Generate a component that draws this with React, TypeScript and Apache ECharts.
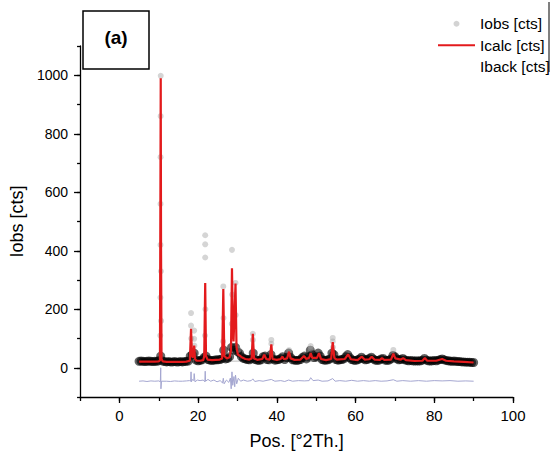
import React, { useEffect, useRef } from "react";
import * as echarts from "echarts";

// Iobs: dense baseline cloud, sampled every 0.5° from 5° to 90°
const iobsStart = 5;
const iobsStep = 0.5;
const iobsBand = [
  22, 23, 22, 21, 22, 23, 22, 21, 22, 22,
  24, 40, 23, 21, 20, 21, 20, 20, 21, 20,
  20, 21, 20, 21, 22, 23, 40, 45, 50, 26,
  24, 25, 27, 35, 40, 28, 26, 25, 26, 27,
  27, 28, 30, 60, 30, 32, 38, 70, 60, 70,
  55, 50, 38, 32, 30, 28, 27, 30, 50, 28,
  26, 25, 27, 38, 40, 28, 27, 45, 30, 26,
  27, 28, 32, 38, 28, 35, 50, 35, 27, 26,
  25, 26, 28, 35, 40, 30, 38, 60, 45, 35,
  38, 50, 40, 28, 26, 26, 27, 30, 50, 45,
  28, 26, 27, 28, 30, 38, 45, 35, 28, 26,
  25, 27, 30, 36, 30, 27, 28, 32, 36, 30,
  26, 25, 26, 30, 32, 26, 25, 26, 30, 42,
  38, 30, 27, 28, 32, 27, 25, 24, 25, 24,
  23, 24, 23, 24, 26, 32, 26, 24, 23, 24,
  25, 24, 26, 28, 30, 27, 25, 24, 23, 22,
  23, 22, 21, 21, 20, 20, 19, 19, 19, 18,
  18,
];

// Iobs: isolated observed points on the peaks
const iobsPeaks: [number, number][] = [
  [10.5, 998], [10.48, 860], [10.46, 720], [10.45, 560], [10.44, 420], [10.55, 330], [10.42, 240], [10.6, 160], [10.38, 110],
  [18.2, 187], [18.2, 144], [18.25, 100], [19.0, 127], [19.0, 99], [19.05, 76],
  [21.8, 453], [21.8, 422], [21.8, 377], [21.85, 200], [21.75, 110],
  [26.4, 278], [26.45, 170], [26.35, 90],
  [28.6, 403], [28.65, 250], [28.55, 150],
  [29.5, 290], [29.55, 180], [30.3, 62],
  [33.9, 116], [33.9, 95],
  [38.6, 95], [38.6, 82], [43.1, 60],
  [48.6, 74], [48.6, 65],
  [54.2, 102], [54.2, 90], [54.25, 70],
  [69.6, 61],
];

const icalc: [number, number][] = [
  [5, 21], [6, 21], [7, 21], [8, 21], [9, 21], [10, 22], [10.3, 25], [10.42, 600], [10.5, 990], [10.58, 400], [10.7, 30],
  [11, 22], [12, 20], [13, 20], [14, 20], [15, 20], [16, 20], [17, 21], [17.9, 24], [18.2, 133], [18.45, 40], [18.75, 35],
  [19.0, 76], [19.2, 30], [19.6, 24], [20.5, 24], [21.3, 26], [21.55, 40], [21.8, 290], [22.0, 40], [22.4, 28], [23.5, 26],
  [24.5, 27], [25.5, 28], [26.1, 32], [26.4, 269], [26.65, 40], [27.3, 32], [28.0, 36], [28.35, 60], [28.6, 340], [28.85, 120],
  [29.0, 90], [29.5, 288], [29.75, 70], [30.1, 45], [30.5, 42], [31.2, 35], [32, 30], [33, 28], [33.6, 32], [33.9, 116],
  [34.2, 32], [35, 27], [36.3, 30], [36.8, 45], [37.3, 30], [38.2, 28], [38.6, 80], [38.9, 30], [40, 27], [41, 30],
  [41.4, 38], [41.8, 29], [42.6, 32], [43.1, 55], [43.5, 32], [44.5, 27], [46, 28], [46.9, 40], [47.5, 30], [48.2, 34],
  [48.6, 50], [49, 34], [50.2, 34], [50.7, 50], [51.2, 30], [52.5, 26], [53.8, 30], [54.2, 88], [54.6, 34], [55.2, 28],
  [57.3, 30], [58.1, 46], [58.8, 29], [60.5, 26], [61.6, 38], [62.3, 28], [63.5, 29], [64.1, 38], [64.8, 28], [66.2, 27],
  [66.7, 33], [67.3, 27], [69, 28], [69.6, 48], [70.1, 32], [71.5, 28], [72.1, 33], [72.8, 26], [75, 23], [77, 24],
  [77.6, 33], [78.2, 24], [80.5, 24], [82, 30], [83, 24], [85, 22], [87.5, 20], [90, 18],
];

const iback: [number, number][] = [
  [5, 20], [15, 19], [25, 22], [32, 23], [45, 22], [60, 21], [75, 20], [90, 17],
];

const idiff: [number, number][] = [
  [5, -46], [6, -45], [7, -47], [8, -45], [9, -46], [10, -45], [10.4, -48], [10.5, 0], [10.55, -72], [10.7, -46],
  [12, -46], [13, -47], [14, -45], [15, -46], [16, -46], [17, -45], [17.8, -44], [18.1, -46], [18.2, -14], [18.3, -48],
  [18.6, -40], [18.9, -44], [19.0, -20], [19.2, -48], [19.8, -42], [20.5, -44], [21.3, -42], [21.7, -48], [21.8, -12], [21.9, -46],
  [22.5, -40], [23.2, -46], [24, -42], [24.8, -48], [25.6, -44], [26.2, -52], [26.4, -36], [26.6, -55], [27.2, -42], [27.8, -50],
  [28.2, -35], [28.4, -72], [28.6, -14], [28.8, -60], [29.1, -30], [29.3, -65], [29.5, -25], [29.8, -55], [30.2, -36], [30.8, -46],
  [31.5, -42], [32.5, -46], [33.5, -44], [33.9, -38], [34.4, -47], [35.5, -44], [36.5, -46], [37.5, -43], [38.6, -40], [39.5, -46],
  [41, -44], [42, -47], [43, -42], [44, -46], [45.5, -44], [47, -45], [48.2, -44], [48.6, -34], [49.2, -44], [50.5, -42],
  [51.5, -46], [53, -45], [54.2, -37], [54.8, -46], [56, -44], [57.5, -46], [59, -43], [60.5, -46], [62, -44], [63.5, -46],
  [65, -44], [66.5, -46], [68, -45], [69.6, -41], [70.5, -46], [72, -44], [74, -46], [76, -44], [78, -46], [80, -44],
  [82, -45], [84, -44], [86, -46], [88, -45], [90, -46],
];

const xMajorTicks = [0, 20, 40, 60, 80, 100];
const yMajorTicks = [0, 200, 400, 600, 800, 1000];

const FONT = "'Liberation Sans', Arial, sans-serif";

export default function App() {
  const ref = useRef<HTMLDivElement>(null);
  useEffect(() => {
    document.body.style.margin = "0";
    if (!ref.current) return;
    const chart = echarts.init(ref.current, null, { renderer: "svg" });

    const obsData: any[] = iobsBand.map((v, i) => [iobsStart + i * iobsStep, v]);
    iobsPeaks.forEach((p) =>
      obsData.push({ value: p, symbolSize: 6, itemStyle: { color: "rgba(160,160,160,0.55)" } })
    );

    const axisLine = { show: true, onZero: false, lineStyle: { color: "#000", width: 1.3 } };

    chart.setOption({
      animation: false,
      backgroundColor: "#fff",
      grid: { left: 75, right: 40, top: 46, bottom: 57, containLabel: false },
      legend: {
        orient: "vertical",
        left: 432,
        top: 8,
        itemWidth: 37,
        itemHeight: 6,
        itemGap: 0,
        textStyle: { fontSize: 15.5, color: "#000", fontFamily: FONT, lineHeight: 21.5 },
        data: [
          { name: "Iobs [cts]", icon: "circle", itemStyle: { color: "#c8c8c8" } },
          { name: "Icalc [cts]", itemStyle: { opacity: 0 } },
          { name: "Iback [cts]", itemStyle: { opacity: 0 }, lineStyle: { opacity: 0 } },
        ],
      },
      xAxis: [
        {
          type: "value",
          min: -10,
          max: 100,
          interval: 10,
          name: "Pos. [°2Th.]",
          nameLocation: "middle",
          nameGap: 35,
          nameTextStyle: { fontSize: 18, color: "#000", fontFamily: FONT },
          axisLine,
          axisTick: { show: true, length: 4, lineStyle: { color: "#000", width: 1.3 } },
          axisLabel: {
            margin: 11,
            fontSize: 15,
            color: "#000",
            fontFamily: FONT,
            formatter: (v: number) => (xMajorTicks.indexOf(v) >= 0 ? String(v) : ""),
          },
          splitLine: { show: false },
        },
        {
          type: "value",
          min: -10,
          max: 100,
          interval: 10,
          position: "bottom",
          axisLine: { show: false, onZero: false },
          axisLabel: { show: false },
          axisTick: { show: true, length: 6, customValues: xMajorTicks, lineStyle: { color: "#000", width: 1.3 } },
          splitLine: { show: false },
        },
      ],
      yAxis: [
        {
          type: "value",
          min: -100,
          max: 1100,
          interval: 100,
          name: "Iobs [cts]",
          nameLocation: "middle",
          nameGap: 47,
          nameTextStyle: { fontSize: 18, color: "#000", fontFamily: FONT },
          axisLine,
          axisTick: { show: true, length: 3, lineStyle: { color: "#000", width: 1.3 } },
          axisLabel: {
            margin: 12,
            fontSize: 14,
            color: "#000",
            fontFamily: FONT,
            formatter: (v: number) => (yMajorTicks.indexOf(v) >= 0 ? String(v) : ""),
          },
          splitLine: { show: false },
        },
        {
          type: "value",
          min: -100,
          max: 1100,
          interval: 100,
          position: "left",
          axisLine: { show: false, onZero: false },
          axisLabel: { show: false },
          axisTick: { show: true, length: 6, customValues: yMajorTicks, lineStyle: { color: "#000", width: 1.3 } },
          splitLine: { show: false },
        },
      ],
      series: [
        {
          name: "Iback [cts]",
          type: "line",
          data: iback,
          symbol: "none",
          lineStyle: { color: "#bdbdbd", width: 1 },
          z: 1,
        },
        {
          name: "Iobs [cts]",
          type: "scatter",
          data: obsData,
          symbolSize: 9,
          itemStyle: { color: "rgba(0,0,0,0.75)" },
          z: 2,
        },
        {
          name: "Icalc [cts]",
          type: "line",
          data: icalc,
          symbol: "none",
          lineStyle: { color: "#e31a1c", width: 2.2 },
          itemStyle: { color: "#e31a1c" },
          z: 3,
        },
        {
          name: "Idiff",
          type: "line",
          data: idiff,
          symbol: "none",
          lineStyle: { color: "#a4a6d0", width: 1 },
          z: 3,
        },
      ],
      graphic: [
        {
          type: "rect",
          shape: { x: 83, y: 11, width: 66, height: 58 },
          style: { fill: "#fff", stroke: "#000", lineWidth: 1.5 },
          z: 10,
        },
        {
          type: "text",
          x: 116,
          y: 37,
          style: {
            text: "(a)",
            font: `bold 19px ${FONT}`,
            fill: "#000",
            align: "center",
            verticalAlign: "middle",
          },
          z: 11,
        },
        {
          type: "line",
          shape: { x1: 549, y1: 2, x2: 549, y2: 72 },
          style: { stroke: "#000", lineWidth: 1 },
          z: 10,
        },
      ],
    });
    return () => chart.dispose();
  }, []);
  return <div ref={ref} style={{ width: 553, height: 455 }} />;
}
